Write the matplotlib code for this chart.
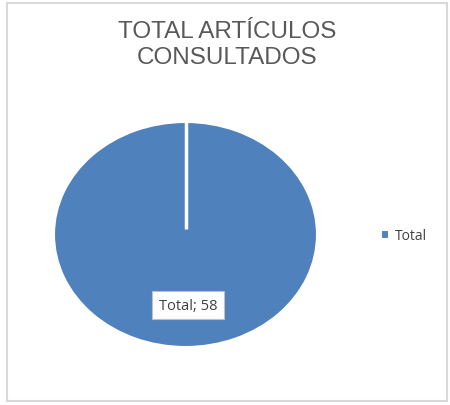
import matplotlib
matplotlib.use("Agg")
import matplotlib.pyplot as plt
from matplotlib.patches import Rectangle

categories = ["Total"]
values = [58]
title = "TOTAL ARTÍCULOS\nCONSULTADOS"
color = "#4F81BD"

W, H = 450, 406
fig = plt.figure(figsize=(W / 100, H / 100), dpi=100)
fig.patch.set_facecolor("white")

# outer border
fig.patches.append(Rectangle((7 / W, 4 / H), 440 / W, 398 / H, transform=fig.transFigure,
                             fill=False, edgecolor="#D9D9D9", linewidth=1.5))

ax = fig.add_axes([54 / W, (H - 348) / H, 263 / W, 225 / H])
wedges, _ = ax.pie(values, colors=[color], startangle=90, counterclock=False,
                   wedgeprops=dict(edgecolor="white", linewidth=1.5))
ax.set_aspect("auto")
ax.set_xlim(-1, 1)
ax.set_ylim(-1, 1)
ax.axis("off")
# white radius line from top to center (single slice edge)
ax.plot([0, 0], [0.05, 1], color="white", linewidth=2.5, solid_capstyle="butt")

ax.text(0.02, -0.63, f"{categories[0]}; {values[0]}", ha="center", va="center",
        fontsize=10.5, color="#404040", family="Open Sans",
        bbox=dict(boxstyle="square,pad=0.45", facecolor="white", edgecolor="#BFBFBF", linewidth=0.8))

fig.text(227 / W, 1 - 45 / H, title, ha="center", va="center", fontsize=17.5,
         color="#595959", family="Liberation Sans", linespacing=1.25)

fig.legend(wedges, categories, loc="center left", bbox_to_anchor=(368 / W, 1 - 237 / H),
           frameon=False, handlelength=0.6, handleheight=0.6, handletextpad=0.45,
           prop=dict(family="Open Sans", size=10), labelcolor="#404040")

fig.savefig("out.png", dpi=100, facecolor="white")
